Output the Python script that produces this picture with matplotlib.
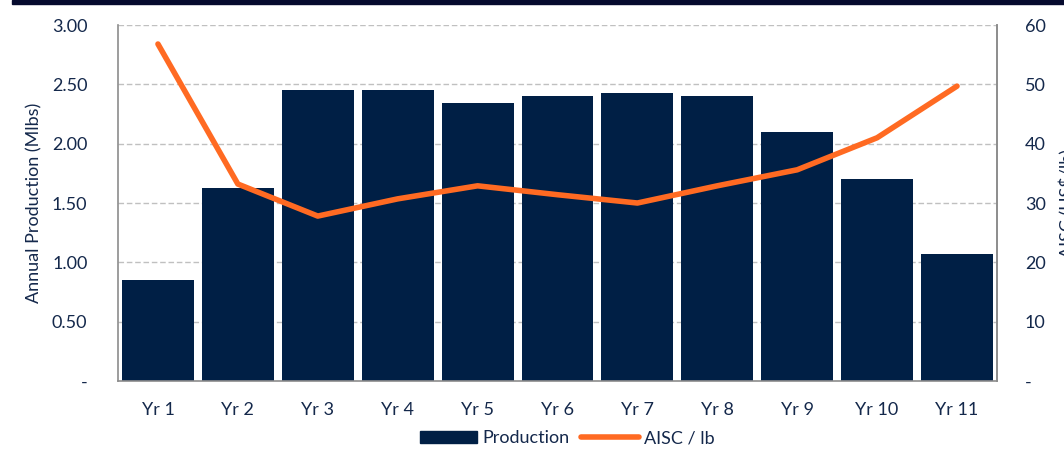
import matplotlib
matplotlib.use("Agg")
import matplotlib.pyplot as plt
from matplotlib.patches import Rectangle
from matplotlib.lines import Line2D

years = ["Yr 1", "Yr 2", "Yr 3", "Yr 4", "Yr 5", "Yr 6", "Yr 7", "Yr 8", "Yr 9", "Yr 10", "Yr 11"]
production = [0.85, 1.63, 2.45, 2.45, 2.34, 2.40, 2.43, 2.40, 2.10, 1.70, 1.07]
aisc = [56.8, 33.2, 27.8, 30.7, 32.9, 31.4, 30.0, 32.9, 35.6, 41.0, 49.7]
left_ticks = [0, 0.5, 1.0, 1.5, 2.0, 2.5, 3.0]
left_labels = ["-", "0.50", "1.00", "1.50", "2.00", "2.50", "3.00"]
right_ticks = [0, 10, 20, 30, 40, 50, 60]
right_labels = ["-", "10", "20", "30", "40", "50", "60"]

navy = "#001F45"
orange = "#FF6A22"
text_c = "#14284B"

plt.rcParams['font.family'] = ['Lato', 'DejaVu Sans']

fig = plt.figure(figsize=(10.64, 4.55), dpi=100)
ax = fig.add_axes([0.1109, 0.1626, 0.8261, 0.7824])
x = list(range(len(years)))
ax.bar(x, production, width=0.9, color=navy, zorder=2, label="Production")
ax.set_xlim(-0.5, len(years) - 0.5)
ax.set_ylim(0, 3.0)
ax.set_yticks(left_ticks)
ax.set_yticklabels(left_labels)
ax.set_xticks(x)
ax.set_xticklabels(years)
ax.grid(axis='y', linestyle=(0, (4, 2)), color="#C0C0C0", linewidth=1, zorder=0)
ax.set_axisbelow(True)
ax.spines["top"].set_visible(False)
for s in ["left", "bottom", "right"]:
    ax.spines[s].set_color("#8C8C8C")
    ax.spines[s].set_linewidth(1.2)
ax.tick_params(axis='both', length=0, labelsize=13, colors=text_c)
ax.tick_params(axis='x', pad=15)
ax.tick_params(axis='y', pad=22)
ax.set_ylabel("Annual Production (Mlbs)", fontsize=13, color=text_c, labelpad=7)

ax2 = ax.twinx()
ax2.plot(x, aisc, color=orange, linewidth=4, solid_capstyle='round', zorder=3)
ax2.set_ylim(0, 60)
ax2.set_yticks(right_ticks)
ax2.set_yticklabels(right_labels)
ax2.tick_params(axis='y', length=0, labelsize=13, colors=text_c, pad=20)
for s in ["top", "left", "bottom"]:
    ax2.spines[s].set_visible(False)
ax2.spines["right"].set_color("#8C8C8C")
ax2.spines["right"].set_linewidth(1.2)
ax2.set_ylabel("AISC (US$/lb)", fontsize=13, color=text_c, labelpad=10)

handles = [Rectangle((0, 0), 1, 1, color=navy),
           Line2D([0], [0], color=orange, linewidth=4, solid_capstyle='round')]
fig.legend(handles, ["Production", "AISC / lb"], loc='center', bbox_to_anchor=(0.533, 0.037),
           ncol=2, frameon=False, fontsize=13, labelcolor=text_c, handlelength=3.2,
           handletextpad=0.3, columnspacing=0.6)

fig.add_artist(Rectangle((12 / 1064, 1 - 4 / 455), 1, 4 / 455, transform=fig.transFigure,
                         color="#050A2E", zorder=5))

fig.savefig("out.png", dpi=100)
